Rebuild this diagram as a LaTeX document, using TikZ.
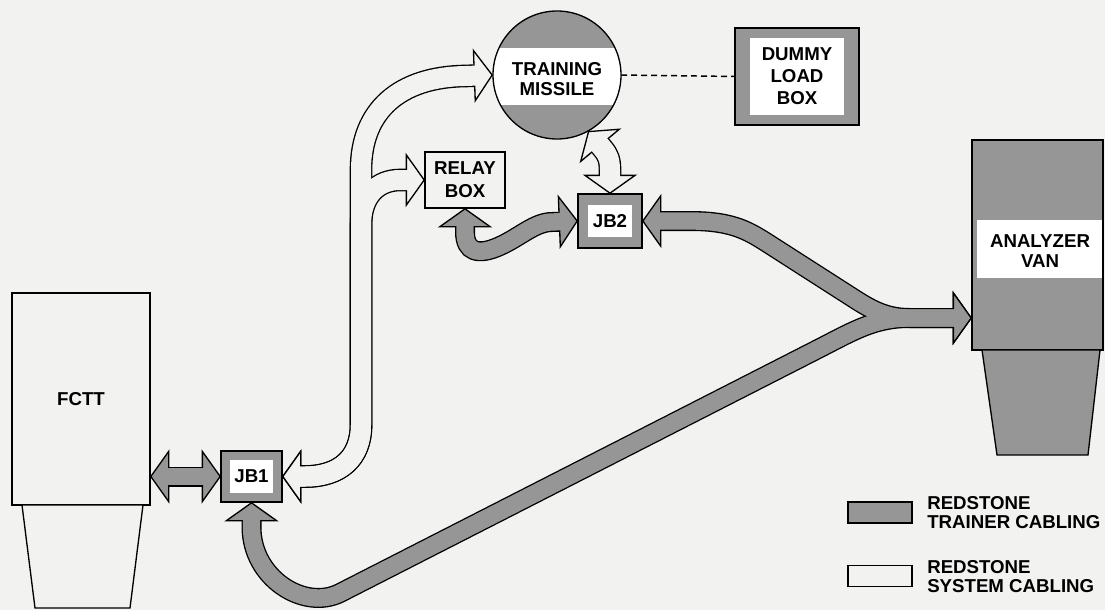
\documentclass[tikz,border=0pt]{standalone}
\usepackage{fontspec}
\newfontfamily\labfont{Liberation Sans}
\usetikzlibrary{arrows.meta,calc}
\definecolor{paper}{RGB}{242,242,240}
\definecolor{cgray}{RGB}{150,150,150}
\tikzset{
  gtip/.tip={Triangle[length=14.5pt,width'=0pt 2.8,line width=1pt,fill=cgray]},
  wtip/.tip={Triangle[length=14.5pt,width'=0pt 2.8,line width=1pt,fill=paper]},
  gout/.style={draw=black, line width=15pt},
  gin/.style={draw=cgray, line width=13pt, shorten <=10pt, shorten >=10pt},
  wout/.style={draw=black, line width=17pt},
  win/.style={draw=paper, line width=15pt, shorten <=10pt, shorten >=10pt},
  lab/.style={font=\labfont\bfseries\fontsize{14}{#1}\selectfont, align=center},
  lab/.default=14.5,
  plainbox/.style={draw, line width=1pt, fill=paper, inner sep=0pt, outer sep=0pt, lab},
  jbbox/.style 2 args={draw, line width=1pt, fill=cgray, inner sep=0pt, outer sep=0pt, lab,
    path picture={\fill[white] ($(path picture bounding box.north west)+(#1,#2)$) rectangle ($(path picture bounding box.south east)+(-#1,-#2)$);}},
}
\begin{document}
\begin{tikzpicture}[x=0.75pt,y=-0.75pt]
\useasboundingbox (0,0) rectangle (1105,610);
\clip (0,0) rectangle (1105,610);
\fill[paper] (0,0) rectangle (1105,610);

% ---- units ----
\node[plainbox, minimum width=103.5pt, minimum height=159pt] (fctt) at (81,399) {FCTT};
\draw[line width=1pt, fill=paper] ($(fctt.south west)+(10,0)$) -- ($(fctt.south east)+(-7,0)$)
  -- ($(fctt.south east)+(-20,103)$) -- ($(fctt.south west)+(23,103)$) -- cycle;

\node[jbbox={9}{9}, minimum width=45.75pt, minimum height=38.25pt] (jb1) at (251.5,476.5) {JB1};
\node[jbbox={10}{11}, minimum width=48pt, minimum height=40.5pt] (jb2) at (610,221) {JB2};
\node[plainbox, minimum width=60pt, minimum height=42pt, lab=17] (relay) at (465,180) {RELAY\\BOX};
\node[jbbox={15}{10}, minimum width=93pt, minimum height=72.75pt, lab=16.5] (dummy) at (797,76.5) {DUMMY\\LOAD\\BOX};
\node[circle, draw, line width=1pt, fill=cgray, minimum size=96pt, inner sep=0pt, outer sep=0pt,
  path picture={\fill[white] ($(path picture bounding box.west)+(0,-27)$) rectangle ($(path picture bounding box.east)+(0,30)$);}]
  (missile) at (557,75) {};
\node[lab, inner sep=0pt] (missiletext) at (557,79) {TRAINING\\MISSILE};

\node[draw, line width=1pt, fill=cgray, minimum width=98.25pt, minimum height=157.5pt, inner sep=0pt, outer sep=0pt,
  path picture={\fill[white] ($(path picture bounding box.west)+(5,-25)$) rectangle ($(path picture bounding box.east)+(0,33)$);}]
  (van) at (1037.5,245) {};
\node[lab, inner sep=0pt] (vantext) at (1040,251) {ANALYZER\\VAN};
\draw[line width=1pt, fill=cgray] ($(van.south west)+(10,0)$) -- ($(van.south east)+(-3,0)$)
  -- ($(van.south east)+(-15,105)$) -- ($(van.south west)+(25,105)$) -- cycle;
\coordinate (vanport) at ([yshift=-54.75pt]van.west);

% ---- legend ----
\node[draw, line width=1pt, fill=cgray, minimum width=48pt, minimum height=15.75pt, inner sep=0pt] (legtrainer) at (880,512.5) {};
\node[draw, line width=1pt, fill=paper, minimum width=48pt, minimum height=15.75pt, inner sep=0pt] (legsystem) at (880,576) {};
\node[lab, align=left, anchor=west, inner sep=0pt] (legtrainertext) at (927,512.5) {REDSTONE\\TRAINER CABLING};
\node[lab, align=left, anchor=west, inner sep=0pt] (legsystemtext) at (927,576.5) {REDSTONE\\SYSTEM CABLING};

% ---- cable paths ----
\def\pgfctt{(jb1.west -| fctt.east) -- (jb1.west)}
\def\pgrelay{(relay.south) -- ($(relay.south)+(0,24)$) .. controls (465,252) and (478,256) .. (500,246)
  .. controls (520,237) and (535,222) .. (552,222) -- (jb2.west)}
\def\pgvan{(jb2.east) -- (690,221) .. controls (735,221) and (750,232) .. (772,246) -- (850,296)
  .. controls (870,309) and (885,318) .. (910,318) -- (vanport)}
\def\pgjbone{(jb1.south) -- ($(jb1.south)+(0,25)$) .. controls (251.5,578) and (304,611) .. (340,593)
  -- (820,348) .. controls (855,330) and (875,318) .. (910,318) -- (vanport)}
\def\pwrelay{(jb1.east) -- (305,476.5) .. controls (340,476.5) and (361,458) .. (361,425) -- (361,225)
  .. controls (361,195) and (378,180) .. (400,180) -- (relay.west)}
\def\pwmissile{(jb1.east) -- (305,476.5) .. controls (340,476.5) and (361,458) .. (361,425) -- (361,170)
  .. controls (361,110) and (400,77) .. (465,76) -- (missile.west)}
\def\pwjbtwo{(missile.-61) -- ($(missile.-61)+(15,18)$) .. controls ($(missile.-61)+(20,24)$) and ($(jb2.north)+(0,-34)$)
  .. ($(jb2.north)+(0,-24)$) -- (jb2.north)}

% outer strokes
\draw[gout, gtip-gtip] \pgfctt;
\draw[gout, gtip-gtip] \pgrelay;
\draw[gout, gtip-gtip] \pgvan;
\draw[gout, gtip-gtip] \pgjbone;
\draw[wout, wtip-wtip] \pwrelay;
\draw[wout, wtip-wtip] \pwmissile;
\draw[wout, wtip-wtip] \pwjbtwo;
% inner fills
\draw[gin] \pgfctt;
\draw[gin] \pgrelay;
\draw[gin] \pgvan;
\draw[gin] \pgjbone;
\draw[win] \pwrelay;
\draw[win] \pwmissile;
\draw[win] \pwjbtwo;

% dashed link
\draw[line width=1.1pt, dash pattern=on 4.5pt off 3pt] (missile.east) -- (dummy.west);
\end{tikzpicture}
\end{document}
